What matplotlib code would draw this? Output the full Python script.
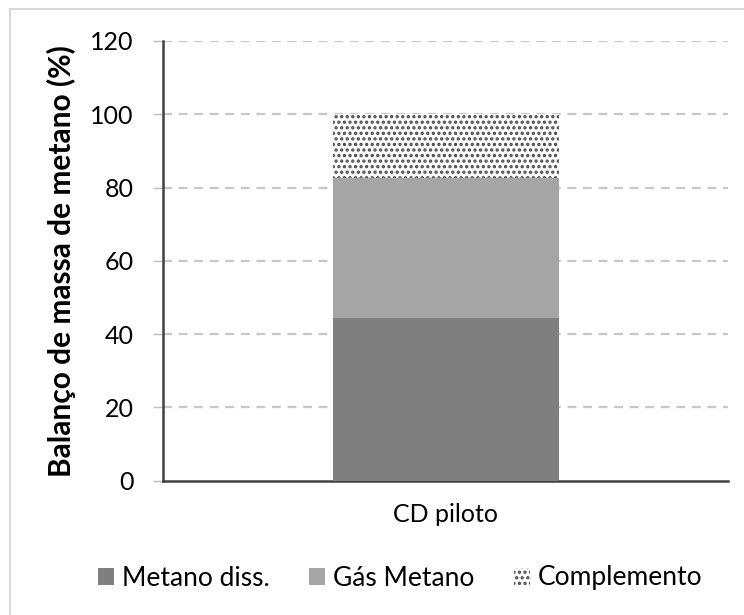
import matplotlib
matplotlib.use("Agg")
import matplotlib.pyplot as plt
from matplotlib.patches import Patch
from matplotlib.lines import Line2D

plt.rcParams['font.family'] = ['Lato', 'DejaVu Sans']
plt.rcParams['hatch.linewidth'] = 1.6

categories = ["CD piloto"]
metano_diss = [44.4]
gas_metano = [38.3]
complemento = [17.3]
series_names = ["Metano diss.", "Gás Metano", "Complemento"]
y_ticks = [0, 20, 40, 60, 80, 100, 120]

fig = plt.figure(figsize=(7.44, 6.15), dpi=100)
ax = fig.add_axes([163/744, 1 - 480.5/615, (728 - 163)/744, (480.5 - 41)/615])

x = [0]
w = 0.4
ax.bar(x, metano_diss, width=w, color="#7f7f7f", linewidth=0, zorder=3)
ax.bar(x, gas_metano, width=w, bottom=metano_diss, color="#a5a5a5", linewidth=0, zorder=3)
bottom3 = [a + b for a, b in zip(metano_diss, gas_metano)]
ax.bar(x, complemento, width=w, bottom=bottom3, color="white", edgecolor="#4a4a4a",
       hatch="...", linewidth=0, zorder=3)

ax.set_xlim(-0.5, 0.5)
ax.set_ylim(0, 120)
ax.set_yticks(y_ticks)
ax.set_yticklabels([str(t) for t in y_ticks], fontsize=18, color="#000000")
ax.set_xticks(x)
ax.set_xticklabels(categories, fontsize=18)
ax.tick_params(axis="x", length=0, pad=16)
ax.tick_params(axis="y", length=7, width=1, color="#bfbfbf", pad=14)

for v in y_ticks[1:]:
    ax.axhline(v, color="#c8c8c8", lw=1.6, ls=(0, (4, 3)), zorder=1)

for s in ["top", "right"]:
    ax.spines[s].set_visible(False)
for s in ["left", "bottom"]:
    ax.spines[s].set_color("#404040")
    ax.spines[s].set_linewidth(1.8)

ax.set_ylabel("Balanço de massa de metano (%)", fontsize=21.5, fontweight="bold", labelpad=10)

handles = [
    Patch(facecolor="#7f7f7f", edgecolor="none"),
    Patch(facecolor="#a5a5a5", edgecolor="none"),
    Patch(facecolor="white", edgecolor="#4a4a4a", hatch="...", linewidth=0),
]
fig.legend(handles, series_names, loc="center", bbox_to_anchor=(400/744, 1 - 578/615),
           ncol=3, frameon=False, fontsize=19, handlelength=0.6, handleheight=0.6,
           handletextpad=0.3, columnspacing=1.5)

# chart-area border (top and left edges)
fig.add_artist(Line2D([10/744, 10/744], [0, 1 - 9/615], transform=fig.transFigure,
                      color="#d9d9d9", lw=1.5))
fig.add_artist(Line2D([10/744, 1], [1 - 9/615, 1 - 9/615], transform=fig.transFigure,
                      color="#d9d9d9", lw=1.5))

fig.savefig("out.png", dpi=100, facecolor="white")
